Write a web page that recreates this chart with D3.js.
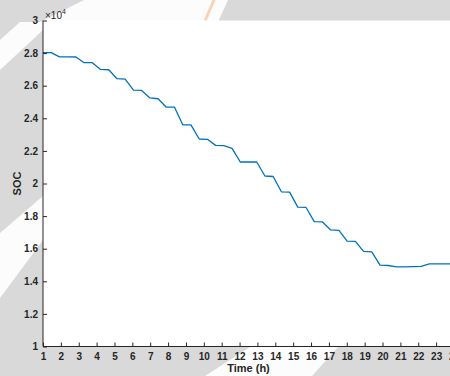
<!DOCTYPE html>
<html>
<head>
<meta charset="utf-8">
<script src="https://cdn.jsdelivr.net/npm/d3@7"></script>
<style>
  html, body { margin: 0; padding: 0; background: #d9d9d9; }
  svg { display: block; }
  text { font-family: "Liberation Sans", Arial, Helvetica, sans-serif; fill: #262626; }
</style>
</head>
<body>
<svg id="chart" width="450" height="376"></svg>
<script>
// Time axis samples (h)
const hours = [1.00, 1.46, 1.92, 2.38, 2.84, 3.30, 3.76, 4.22, 4.68, 5.14,
               5.60, 6.06, 6.52, 6.98, 7.44, 7.90, 8.36, 8.82, 9.28, 9.74,
               10.20, 10.66, 11.12, 11.58, 12.04, 12.50, 12.96, 13.42, 13.88, 14.34,
               14.80, 15.26, 15.72, 16.18, 16.64, 17.10, 17.56, 18.02, 18.48, 18.94,
               19.40, 19.86, 20.32, 20.78, 21.24, 21.70, 22.16, 22.62, 23.08, 23.54, 24.00];

// State of charge at each sample
const soc = [28030, 28030, 27770, 27770, 27760, 27410, 27410, 27000, 26980, 26430,
             26400, 25730, 25710, 25250, 25200, 24680, 24680, 23600, 23600, 22730,
             22710, 22340, 22320, 22160, 21320, 21320, 21320, 20460, 20430, 19490,
             19470, 18550, 18530, 17660, 17640, 17150, 17130, 16470, 16450, 15840,
             15810, 14990, 14970, 14890, 14890, 14900, 14910, 15070, 15070, 15070, 15070];

const xTicks = [1, 2, 3, 4, 5, 6, 7, 8, 9, 10, 11, 12, 13, 14, 15, 16, 17, 18, 19, 20, 21, 22, 23, 24];
const yTicks = [10000, 12000, 14000, 16000, 18000, 20000, 22000, 24000, 26000, 28000, 30000];
const yTickLabels = ["1", "1.2", "1.4", "1.6", "1.8", "2", "2.2", "2.4", "2.6", "2.8", "3"];

const svg = d3.select("#chart");
const W = 450, H = 376;

// faint background shapes around the axes
const bg = svg.append("g");
bg.append("rect").attr("width", W).attr("height", H).attr("fill", "#d9d9d9");
const shapes = [
  [[84, 0], [228, 0], [218, 22], [40, 22]],
  [[0, 233], [43, 196], [43, 240], [0, 298]],
  [[0, 40], [20, 22], [43, 22], [43, 30], [0, 70]],
  [[205, 376], [312, 376], [338, 347], [250, 347]]
];
bg.selectAll("polygon.w").data(shapes).join("polygon")
  .attr("class", "w")
  .attr("points", d => d.map(p => p.join(",")).join(" "))
  .attr("fill", "#ffffff").attr("opacity", 0.9);
bg.append("line").attr("x1", 214).attr("y1", 0).attr("x2", 205).attr("y2", 21)
  .attr("stroke", "#f7b98c").attr("stroke-width", 3).attr("opacity", 0.6);

const x = d3.scaleLinear().domain([1, 24]).range([43, 454]);
const y = d3.scaleLinear().domain([10000, 30000]).range([346.5, 20.5]);

// plot area
svg.append("rect")
  .attr("x", x(1)).attr("y", y(30000))
  .attr("width", x(24) - x(1)).attr("height", y(10000) - y(30000))
  .attr("fill", "#ffffff");

// series line
const line = d3.line().x((d, i) => x(hours[i])).y(d => y(d));
svg.append("path")
  .datum(soc)
  .attr("d", line)
  .attr("fill", "none")
  .attr("stroke", "#0072BD")
  .attr("stroke-width", 1.3)
  .attr("stroke-linejoin", "round");

// axes with inward ticks
const xAxis = d3.axisBottom(x).tickValues(xTicks).tickSize(-4).tickPadding(6)
  .tickFormat(d3.format("d"));
const gx = svg.append("g").attr("transform", `translate(0,${y(10000)})`).call(xAxis);
gx.select(".domain").attr("stroke", "#262626").attr("d", `M${x(1)},0H${x(24)}`);
gx.selectAll(".tick line").attr("stroke", "#262626");
gx.selectAll(".tick text").attr("font-size", 10).attr("font-weight", "bold").attr("fill", "#262626");

const yAxis = d3.axisLeft(y).tickValues(yTicks).tickSize(-4).tickPadding(5)
  .tickFormat((d, i) => yTickLabels[i]);
const gy = svg.append("g").attr("transform", `translate(${x(1)},0)`).call(yAxis);
gy.select(".domain").attr("stroke", "#262626").attr("d", `M0,${y(10000)}V${y(30000)}`);
gy.selectAll(".tick line").attr("stroke", "#262626");
gy.selectAll(".tick text").attr("font-size", 10).attr("font-weight", "bold").attr("fill", "#262626");

// exponent note above the y axis
const ex = svg.append("text").attr("x", x(1) + 2).attr("y", 19).attr("font-size", 10);
ex.append("tspan").text("\u00d710");
ex.append("tspan").attr("font-size", 7).attr("dy", -5).text("4");

// axis titles
svg.append("text")
  .attr("x", (x(1) + x(24)) / 2).attr("y", 372)
  .attr("text-anchor", "middle")
  .attr("font-size", 11).attr("font-weight", "bold")
  .text("Time (h)");

svg.append("text")
  .attr("transform", `translate(21,${(y(10000) + y(30000)) / 2}) rotate(-90)`)
  .attr("text-anchor", "middle")
  .attr("font-size", 11).attr("font-weight", "bold")
  .text("SOC");
</script>
</body>
</html>
